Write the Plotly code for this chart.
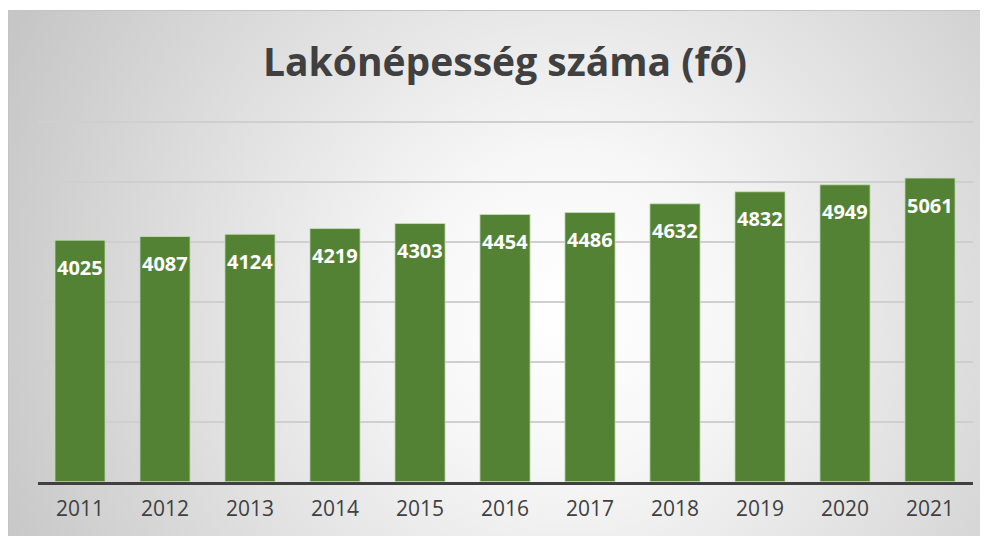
import base64
import plotly.graph_objects as go

years = ["2011", "2012", "2013", "2014", "2015", "2016", "2017", "2018", "2019", "2020", "2021"]
population = [4025, 4087, 4124, 4219, 4303, 4454, 4486, 4632, 4832, 4949, 5061]
title_text = "Lakónépesség száma (fő)"

# page body has an 8px margin; the figure is sized to fill the rest of the window
W, H = 980, 528
FONT = "Open Sans"

# radial gradient background of the chart area (decoration)
svg = (
    '<svg xmlns="http://www.w3.org/2000/svg" width="980" height="526">'
    '<defs><radialGradient id="g" cx="560" cy="300" r="620" gradientUnits="userSpaceOnUse">'
    '<stop offset="0" stop-color="#ffffff"/>'
    '<stop offset="0.25" stop-color="#f7f7f7"/>'
    '<stop offset="1" stop-color="#c6c6c6"/>'
    '</radialGradient></defs>'
    '<rect width="980" height="526" fill="url(#g)"/>'
    '<rect x="0.5" y="0.5" width="979" height="530" fill="none" stroke="#c4c4c4" stroke-width="1"/>'
    '</svg>'
)
src = "data:image/svg+xml;base64," + base64.b64encode(svg.encode()).decode()

fig = go.Figure()
fig.add_trace(go.Bar(
    x=years, y=population, width=0.59,
    marker=dict(color="#548235", line=dict(color="rgba(200,225,185,0.8)", width=1)),
    hoverinfo="x+y",
))

annotations = [
    dict(x=i, y=v, xref="x", yref="y", text=f"<b>{v}</b>", showarrow=False,
         yshift=-27, font=dict(family=FONT, size=20, color="white"))
    for i, v in enumerate(population)
]
annotations.append(dict(
    x=497 / W, y=1 - 52 / H, xref="paper", yref="paper",
    text=f"<b>{title_text}</b>", showarrow=False, xanchor="center", yanchor="middle",
    font=dict(family=FONT, size=39, color="#404040"),
))

# y range slightly above 6000 so the top gridline is drawn (60 px per 1000)
Y_MAX = 6020
top_px = 473.7 - Y_MAX * 0.06

fig.update_layout(
    width=W, height=H,
    margin=dict(l=0, r=0, t=0, b=0, autoexpand=False),
    paper_bgcolor="white", plot_bgcolor="rgba(0,0,0,0)",
    showlegend=False,
    images=[dict(source=src, xref="paper", yref="paper", x=0, y=1 - 2 / H,
                 sizex=980 / W, sizey=526 / H, xanchor="left", yanchor="top",
                 sizing="stretch", layer="below")],
    annotations=annotations,
    xaxis=dict(type="category", range=[-0.5, len(years) - 0.5],
               domain=[29.5 / W, 964.5 / W], showline=True,
               linecolor="#404040", linewidth=3, automargin=False,
               ticks="", tickfont=dict(family=FONT, size=21, color="#404040"),
               ticklabelstandoff=6, showgrid=False),
    yaxis=dict(domain=[(H - 473.7) / H, (H - top_px) / H], range=[0, Y_MAX], dtick=1000,
               showgrid=True, gridcolor="#cfcfcf", gridwidth=1.5, showticklabels=False,
               zeroline=False, ticks="", automargin=False),
)

fig.write_html("out.html")
